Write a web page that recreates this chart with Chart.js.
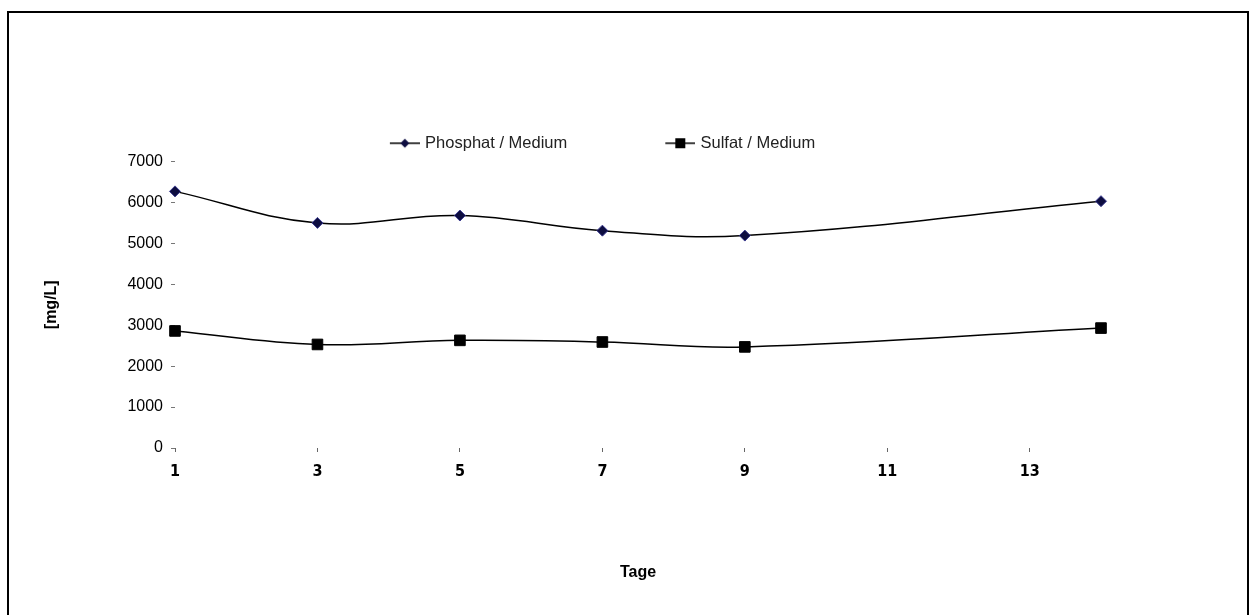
<!DOCTYPE html>
<html lang="de">
<head>
<meta charset="utf-8">
<title>Phosphat / Sulfat im Medium</title>
<script src="https://cdn.jsdelivr.net/npm/chart.js@4.4.1/dist/chart.umd.min.js"></script>
<style>
    html, body { margin: 0; padding: 0; background: #fff; overflow: hidden; }
    #wrap { position: absolute; left: 0; top: 0; width: 1250px; height: 615px; }
    #rahmen { position: absolute; left: 7px; top: 11px; width: 1238px; height: 700px; border: 2px solid #000; pointer-events: none; }
</style>
</head>
<body>
<div id="wrap">
    <canvas id="mediumChart" width="1250" height="615"></canvas>
</div>
<div id="rahmen"></div>
<script>
// Werte
const tage = [1, 3, 5, 7, 9, 14];
const phosphat = [6270, 5500, 5680, 5310, 5190, 6030];
const sulfat = [2860, 2530, 2630, 2590, 2470, 2930];
const tickTage = [1, 3, 5, 7, 9, 11, 13];
const serienNamen = ['Phosphat / Medium', 'Sulfat / Medium'];

document.addEventListener('DOMContentLoaded', () => {
    Chart.defaults.font.family = "'Liberation Sans', Arial, sans-serif";
    Chart.defaults.color = '#000';

    // kleines Legendensymbol: Linie mit Marker, wie im Original
    const legendenSymbol = (form) => {
        const c = document.createElement('canvas');
        c.width = 36; c.height = 14;
        const ctx = c.getContext('2d');
        ctx.strokeStyle = '#000';
        ctx.lineWidth = 1.5;
        ctx.beginPath(); ctx.moveTo(6, 7); ctx.lineTo(36, 7); ctx.stroke();
        if (form === 'raute') {
            ctx.fillStyle = '#0d0d40';
            ctx.beginPath();
            ctx.moveTo(21, 2.5); ctx.lineTo(25.5, 7); ctx.lineTo(21, 11.5); ctx.lineTo(16.5, 7);
            ctx.closePath(); ctx.fill();
        } else {
            ctx.fillStyle = '#000';
            ctx.fillRect(16, 2, 10, 10);
        }
        return c;
    };
    const symbole = [legendenSymbol('raute'), legendenSymbol('quadrat')];

    const punkte = (werte) => tage.map((t, i) => ({ x: t, y: werte[i] }));

    new Chart(document.getElementById('mediumChart').getContext('2d'), {
        type: 'line',
        data: {
            datasets: [{
                label: serienNamen[0],
                data: punkte(phosphat),
                clip: false,
                borderColor: '#000', borderWidth: 1.5, tension: 0.4,
                pointStyle: 'rectRot', pointRadius: 5.5,
                pointBackgroundColor: '#0d0d40', pointBorderColor: '#3b3b8f', pointBorderWidth: 1
            }, {
                label: serienNamen[1],
                data: punkte(sulfat),
                clip: false,
                borderColor: '#000', borderWidth: 1.5, tension: 0.4,
                pointStyle: 'rect', pointRadius: 7.5,
                pointBackgroundColor: '#000', pointBorderColor: '#000', pointBorderWidth: 1
            }]
        },
        options: {
            responsive: false,
            animation: false,
            events: [],
            layout: { padding: { left: 101, right: 149, top: 40, bottom: 0 } },
            plugins: {
                tooltip: { enabled: false },
                legend: {
                    position: 'top',
                    labels: {
                        usePointStyle: true,
                        pointStyleWidth: 30,
                        padding: 95,
                        color: '#222',
                        font: { size: 16.5 },
                        generateLabels: (chart) => Chart.defaults.plugins.legend.labels.generateLabels(chart)
                            .map((item, i) => ({ ...item, pointStyle: symbole[i] }))
                    }
                }
            },
            scales: {
                x: {
                    type: 'linear',
                    min: 1, max: 14,
                    afterBuildTicks: (scale) => { scale.ticks = tickTage.map(v => ({ value: v })); },
                    afterFit: (scale) => { scale.height = 167; },
                    grid: { drawOnChartArea: false, drawTicks: true, tickLength: 4, color: '#666' },
                    border: { display: false },
                    ticks: {
                        padding: 10, maxRotation: 0,
                        font: { family: "'Liberation Sans Narrow', 'DejaVu Sans Condensed', Arial, sans-serif", size: 16, weight: 'bold' }
                    },
                    title: {
                        display: true, text: 'Tage',
                        font: { size: 16, weight: 'bold' },
                        padding: { top: 0, bottom: 32.4 }
                    }
                },
                y: {
                    min: 0, max: 7000,
                    afterFit: (scale) => { scale.width = 74; },
                    grid: { drawOnChartArea: false, drawTicks: true, tickLength: 4, color: '#777' },
                    border: { display: false },
                    ticks: { stepSize: 1000, padding: 8, font: { size: 16 }, callback: (v) => String(v) },
                    title: {
                        display: true, text: '[mg/L]',
                        font: { size: 16, weight: 'bold' },
                        padding: { top: -58.6, bottom: 0 }
                    }
                }
            }
        }
    });
});
</script>
</body>
</html>
